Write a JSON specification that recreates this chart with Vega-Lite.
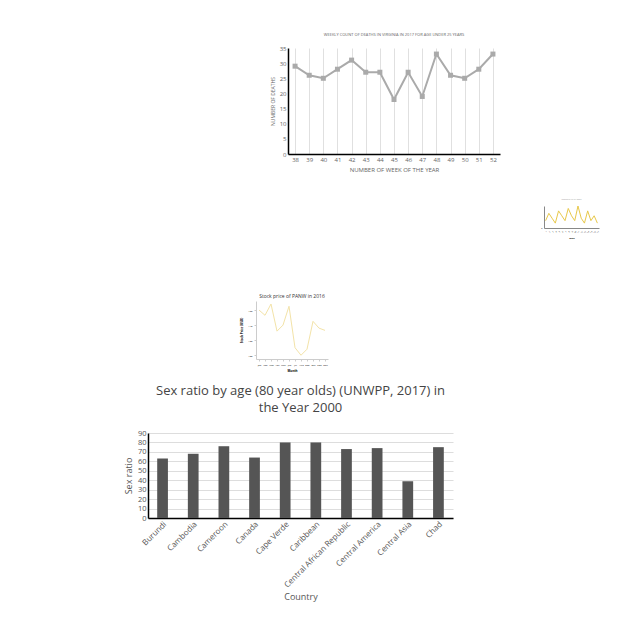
{
  "$schema": "https://vega.github.io/schema/vega-lite/v6.json",
  "background": "white",
  "padding": 0,
  "spacing": 0,
  "config": {"view": {"stroke": null}, "font": "Open Sans", "concat": {"spacing": 0}},
  "vconcat": [
    {"width": 10, "height": 33, "data": {"values": []}, "mark": "point", "encoding": {}},
    {"hconcat": [
      {"width": 270, "height": 150, "data": {"values": []}, "mark": "point", "encoding": {}},
      {
        "width": 212, "height": 106,
        "title": {"text": "WEEKLY COUNT OF DEATHS IN VIRGINIA IN 2017 FOR AGE UNDER 25 YEARS", "fontSize": 4, "color": "#666", "fontWeight": "normal", "offset": 8},
        "data": {"values": [
          {"week": "38", "deaths": 29}, {"week": "39", "deaths": 26}, {"week": "40", "deaths": 25},
          {"week": "41", "deaths": 28}, {"week": "42", "deaths": 31}, {"week": "43", "deaths": 27},
          {"week": "44", "deaths": 27}, {"week": "45", "deaths": 18}, {"week": "46", "deaths": 27},
          {"week": "47", "deaths": 19}, {"week": "48", "deaths": 33}, {"week": "49", "deaths": 26},
          {"week": "50", "deaths": 25}, {"week": "51", "deaths": 28}, {"week": "52", "deaths": 33}
        ]},
        "mark": {"type": "line", "color": "#aaaaaa", "strokeWidth": 2, "point": {"shape": "square", "filled": true, "color": "#aaaaaa", "size": 25}},
        "encoding": {
          "x": {"field": "week", "type": "ordinal", "title": "NUMBER OF WEEK OF THE YEAR",
            "axis": {"labelAngle": 0, "labelFontSize": 6, "titleFontSize": 6, "titleFontWeight": "normal", "titleColor": "#666", "labelColor": "#666", "grid": true, "gridColor": "#e0e0e0", "domainColor": "#000", "domainWidth": 1.5, "ticks": false}},
          "y": {"field": "deaths", "type": "quantitative", "title": "NUMBER OF DEATHS", "scale": {"domain": [0, 35]},
            "axis": {"values": [0, 5, 10, 15, 20, 25, 30, 35], "labelFontSize": 6, "titleFontSize": 5, "titleFontWeight": "normal", "titleColor": "#666", "labelColor": "#666", "grid": false, "domainColor": "#000", "domainWidth": 1.5, "ticks": false}}
        }
      }
    ]},
    {"hconcat": [
      {"width": 540, "height": 30, "data": {"values": []}, "mark": "point", "encoding": {}},
      {
        "width": 55, "height": 22,
        "title": {"text": "Deaths in US by week", "fontSize": 2, "color": "#999", "fontWeight": "normal"},
        "data": {"values": [
          {"w": 1, "v": 3}, {"w": 2, "v": 6}, {"w": 3, "v": 4}, {"w": 4, "v": 2}, {"w": 5, "v": 7},
          {"w": 6, "v": 5}, {"w": 7, "v": 3}, {"w": 8, "v": 8}, {"w": 9, "v": 5}, {"w": 10, "v": 3},
          {"w": 11, "v": 9}, {"w": 12, "v": 4}, {"w": 13, "v": 2}, {"w": 14, "v": 7}, {"w": 15, "v": 3},
          {"w": 16, "v": 5}, {"w": 17, "v": 2}
        ]},
        "mark": {"type": "line", "color": "#e8c84a", "strokeWidth": 1},
        "encoding": {
          "x": {"field": "w", "type": "ordinal", "title": "Week", "axis": {"labelFontSize": 2, "titleFontSize": 2, "labelAngle": -45, "ticks": false}},
          "y": {"field": "v", "type": "quantitative", "title": null, "axis": {"labelFontSize": 2, "ticks": false, "grid": false}}
        }
      }
    ]},
    {"width": 10, "height": 54, "data": {"values": []}, "mark": "point", "encoding": {}},
    {"hconcat": [
      {"width": 240, "height": 60, "data": {"values": []}, "mark": "point", "encoding": {}},
      {
        "width": 72, "height": 58,
        "title": {"text": "Stock price of PANW in 2016", "fontSize": 5, "color": "#333", "fontWeight": "normal", "offset": 2},
        "data": {"values": [
          {"m": "Jan", "p": 160}, {"m": "Feb", "p": 153}, {"m": "Mar", "p": 168}, {"m": "Apr", "p": 132},
          {"m": "May", "p": 140}, {"m": "Jun", "p": 165}, {"m": "Jul", "p": 110}, {"m": "Aug", "p": 100},
          {"m": "Sep", "p": 108}, {"m": "Oct", "p": 145}, {"m": "Nov", "p": 136}, {"m": "Dec", "p": 133}
        ]},
        "mark": {"type": "line", "color": "#f3e3a8", "strokeWidth": 1},
        "encoding": {
          "x": {"field": "m", "type": "ordinal", "sort": null, "title": "Month", "axis": {"labelFontSize": 2.5, "titleFontSize": 3, "labelAngle": 0, "domainColor": "#ccc", "tickColor": "#ccc", "tickSize": 2}},
          "y": {"field": "p", "type": "quantitative", "title": "Stock Price (USD)", "scale": {"domain": [95, 172]}, "axis": {"labelFontSize": 2.5, "titleFontSize": 3, "grid": false, "tickCount": 4, "domainColor": "#ccc", "tickColor": "#ccc", "tickSize": 2}}
        }
      }
    ]},
    {"width": 10, "height": 12, "data": {"values": []}, "mark": "point", "encoding": {}},
    {"hconcat": [
      {"width": 124, "height": 10, "data": {"values": []}, "mark": "point", "encoding": {}},
      {
        "width": 305, "height": 85,
        "title": {"text": ["Sex ratio by age (80 year olds) (UNWPP, 2017) in", "the Year 2000"], "fontSize": 13, "color": "#444", "fontWeight": "normal", "offset": 14, "lineHeight": 17},
        "data": {"values": [
          {"country": "Burundi", "ratio": 63}, {"country": "Cambodia", "ratio": 68},
          {"country": "Cameroon", "ratio": 76}, {"country": "Canada", "ratio": 64},
          {"country": "Cape Verde", "ratio": 80}, {"country": "Caribbean", "ratio": 80},
          {"country": "Central African Republic", "ratio": 73}, {"country": "Central America", "ratio": 74},
          {"country": "Central Asia", "ratio": 39}, {"country": "Chad", "ratio": 75}
        ]},
        "mark": {"type": "bar", "color": "#555555"},
        "encoding": {
          "x": {"field": "country", "type": "nominal", "sort": null, "title": "Country",
            "scale": {"paddingInner": 0.65, "paddingOuter": 0.3},
            "axis": {"labelAngle": -45, "labelFontSize": 8, "labelColor": "#555", "titleFontSize": 9, "titleFontWeight": "normal", "titleColor": "#555", "ticks": false, "domainColor": "#000", "domainWidth": 1.5}},
          "y": {"field": "ratio", "type": "quantitative", "title": "Sex ratio", "scale": {"domain": [0, 90]},
            "axis": {"values": [0, 10, 20, 30, 40, 50, 60, 70, 80, 90], "labelFontSize": 7.5, "labelColor": "#555", "titleFontSize": 9, "titleFontWeight": "normal", "titleColor": "#555", "ticks": false, "gridColor": "#ddd", "domainColor": "#000", "domainWidth": 1.5}}
        }
      }
    ]}
  ]
}
